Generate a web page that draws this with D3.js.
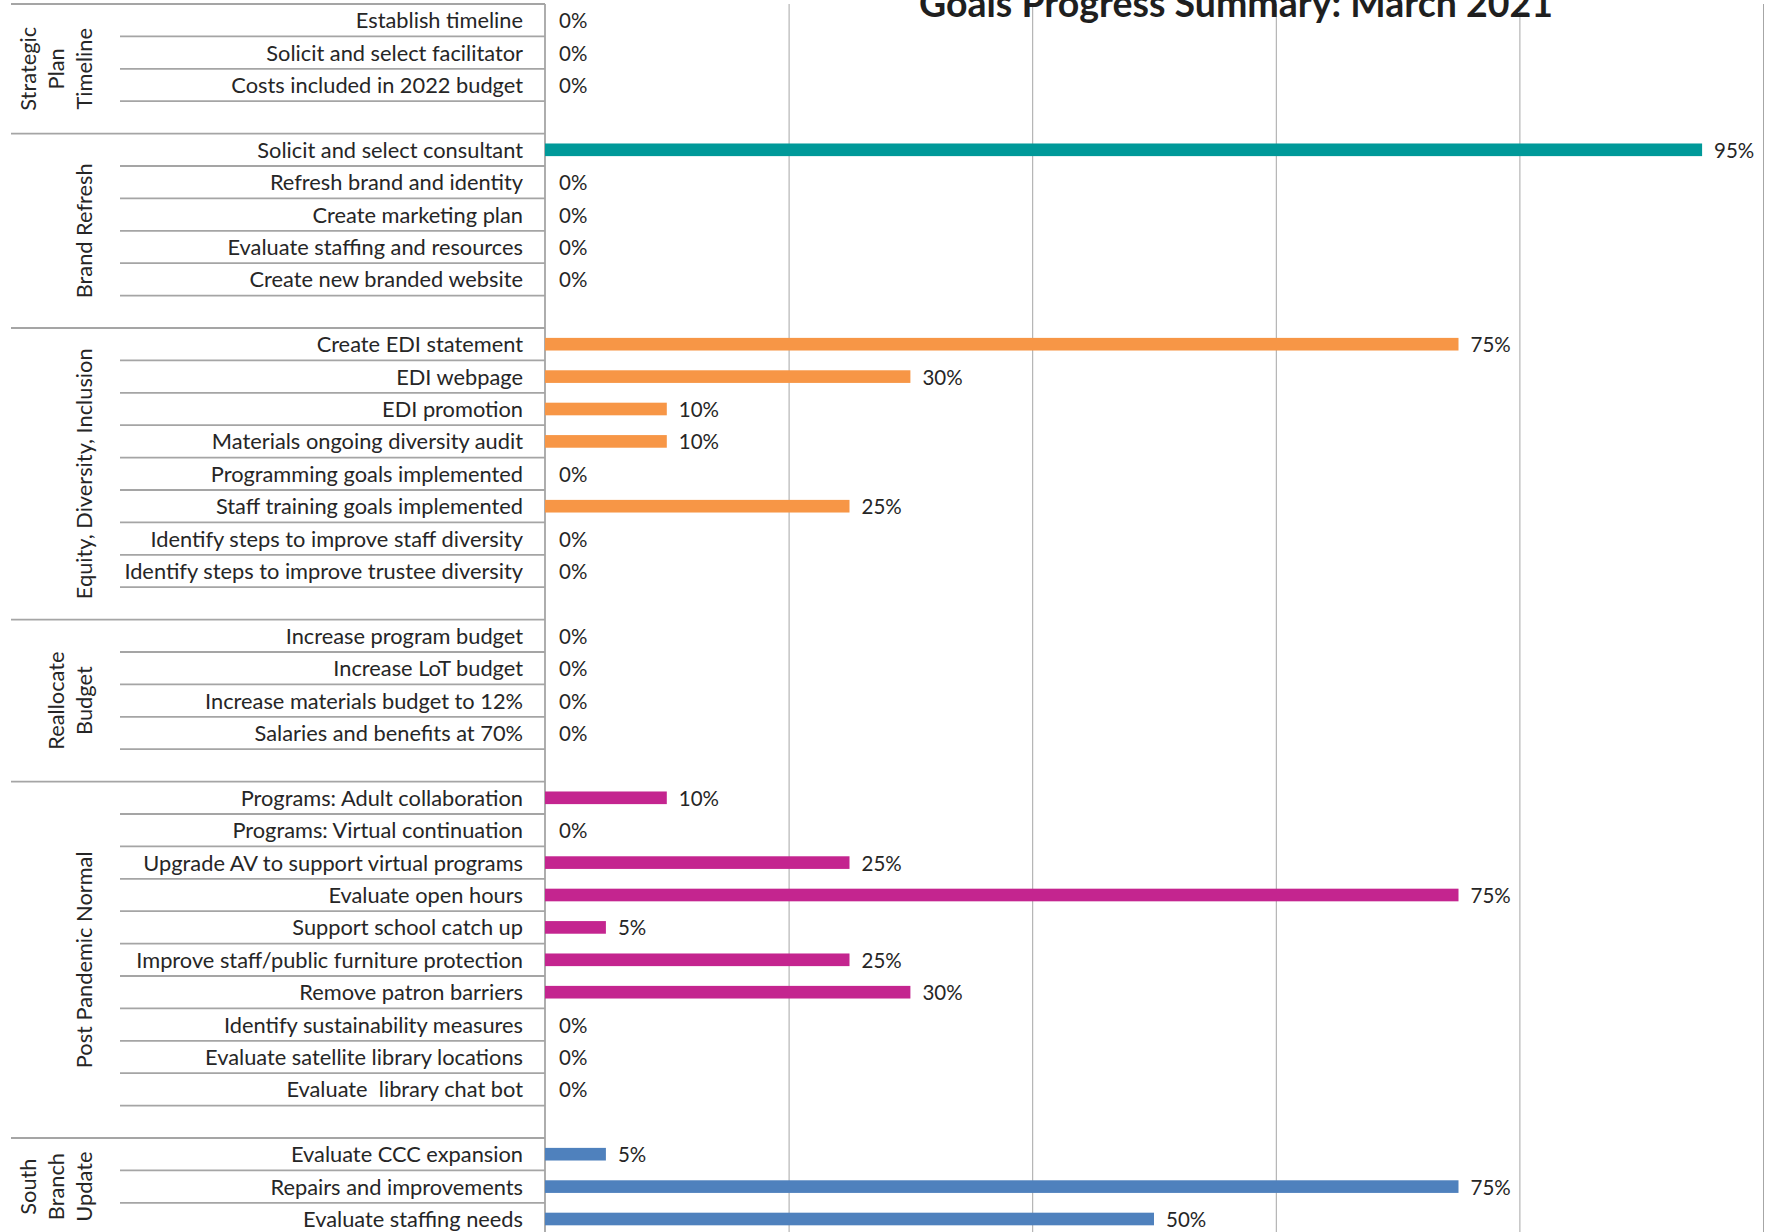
<!DOCTYPE html>
<html>
<head>
<meta charset="utf-8">
<script src="https://cdn.jsdelivr.net/npm/d3@7"></script>
<style>
  body { margin: 0; background: #fff; }
  text { font-family: Lato, "Open Sans", sans-serif; fill: #262626; white-space: pre; }
</style>
</head>
<body>
<svg id="chart"></svg>
<script>
// Goal groups (label lines) and their items / percent complete
const groups = [
  ["Strategic", "Plan", "Timeline"],
  ["Brand Refresh"],
  ["Equity, Diversity, Inclusion"],
  ["Reallocate", "Budget"],
  ["Post Pandemic Normal"],
  ["South", "Branch", "Update"]
];

const strategicItems = ["Establish timeline", "Solicit and select facilitator", "Costs included in 2022 budget"];
const strategicValues = [0, 0, 0];

const brandItems = ["Solicit and select consultant", "Refresh brand and identity", "Create marketing plan",
  "Evaluate staffing and resources", "Create new branded website"];
const brandValues = [95, 0, 0, 0, 0];

const ediItems = ["Create EDI statement", "EDI webpage", "EDI promotion", "Materials ongoing diversity audit",
  "Programming goals implemented", "Staff training goals implemented",
  "Identify steps to improve staff diversity", "Identify steps to improve trustee diversity"];
const ediValues = [75, 30, 10, 10, 0, 25, 0, 0];

const budgetItems = ["Increase program budget", "Increase LoT budget", "Increase materials budget to 12%",
  "Salaries and benefits at 70%"];
const budgetValues = [0, 0, 0, 0];

const pandemicItems = ["Programs: Adult collaboration", "Programs: Virtual continuation",
  "Upgrade AV to support virtual programs", "Evaluate open hours", "Support school catch up",
  "Improve staff/public furniture protection", "Remove patron barriers", "Identify sustainability measures",
  "Evaluate satellite library locations", "Evaluate  library chat bot"];
const pandemicValues = [10, 0, 25, 75, 5, 25, 30, 0, 0, 0];

const southItems = ["Evaluate CCC expansion", "Repairs and improvements", "Evaluate staffing needs"];
const southValues = [5, 75, 50];

const groupColors = ["#4f81bd", "#009999", "#f79646", "#9bbb59", "#c4258f", "#4f81bd"];
const gridTicks = [0.2, 0.4, 0.6, 0.8, 1.0];

const itemLists = [strategicItems, brandItems, ediItems, budgetItems, pandemicItems, southItems];
const valueLists = [strategicValues, brandValues, ediValues, budgetValues, pandemicValues, southValues];

// flatten into rows; every group but the last ends with a blank row
const rows = [];
itemLists.forEach((items, g) => {
  items.forEach((name, i) => rows.push({ id: g + "-" + i, group: g, name: name, value: valueLists[g][i] }));
  if (g < itemLists.length - 1) rows.push({ id: g + "-blank", group: g, name: "", value: null });
});

const W = 1770, H = 1232;
const rowStep = 32.4, topY = 4;
const axisX = 545;
const labelSize = 21.8;

const svg = d3.select("#chart").attr("width", W).attr("height", H);

const y = d3.scaleBand()
  .domain(rows.map(d => d.id))
  .range([topY, topY + rows.length * rowStep]);

const x = d3.scaleLinear()
  .domain([0, 1])
  .range([axisX, 1763]);

// vertical gridlines
svg.append("g")
  .attr("transform", "translate(0," + topY + ")")
  .call(d3.axisBottom(x).tickValues(gridTicks).tickSize(H).tickFormat(""))
  .call(g => g.select(".domain").remove())
  .call(g => g.selectAll(".tick line").attr("stroke", "#a6a6a6").attr("stroke-width", 1));

// category separator lines
const sep = svg.append("g").attr("stroke", "#a5a5a5").attr("stroke-width", 1.8);
rows.forEach((d, i) => {
  const first = i === 0 || rows[i - 1].group !== d.group;
  sep.append("line")
    .attr("x1", first ? 11 : 120).attr("x2", axisX)
    .attr("y1", y(d.id)).attr("y2", y(d.id));
});

// axis line
sep.append("line")
  .attr("x1", axisX).attr("x2", axisX)
  .attr("y1", topY).attr("y2", H);

// bars
const barH = y.bandwidth() * 0.39;
const items = rows.filter(d => d.value !== null);

svg.append("g").selectAll("rect")
  .data(items.filter(d => d.value > 0))
  .join("rect")
    .attr("x", x(0))
    .attr("y", d => y(d.id) + (y.bandwidth() - barH) / 2)
    .attr("width", d => x(d.value / 100) - x(0))
    .attr("height", barH)
    .attr("fill", d => groupColors[d.group]);

// value labels
svg.append("g").selectAll("text")
  .data(items)
  .join("text")
    .attr("x", d => x(d.value / 100) + (d.value > 0 ? 12 : 14))
    .attr("y", d => y(d.id) + y.bandwidth() / 2 + 8)
    .attr("font-size", 20.5)
    .text(d => d.value + "%");

// item labels
svg.append("g").selectAll("text")
  .data(items)
  .join("text")
    .attr("x", 523)
    .attr("y", d => y(d.id) + y.bandwidth() / 2 + 8)
    .attr("text-anchor", "end")
    .attr("font-size", labelSize)
    .text(d => d.name);

// group labels, rotated
groups.forEach((lines, g) => {
  const gRows = rows.filter(d => d.group === g);
  const y0 = y(gRows[0].id);
  const y1 = y(gRows[gRows.length - 1].id) + y.bandwidth();
  const cy = (y0 + y1) / 2;
  lines.forEach((ln, k) => {
    const bx = 92 - (lines.length - 1 - k) * 28.2;
    svg.append("text")
      .attr("transform", "translate(" + bx + "," + cy + ") rotate(-90)")
      .attr("text-anchor", "middle")
      .attr("font-size", labelSize)
      .text(ln);
  });
});

// title (clipped at the top as in the source)
svg.append("text")
  .attr("x", 1236)
  .attr("y", 17)
  .attr("text-anchor", "middle")
  .attr("font-size", 37.5)
  .attr("font-weight", "bold")
  .style("fill", "#1f1f1f")
  .text("Goals Progress Summary: March 2021");
</script>
</body>
</html>
